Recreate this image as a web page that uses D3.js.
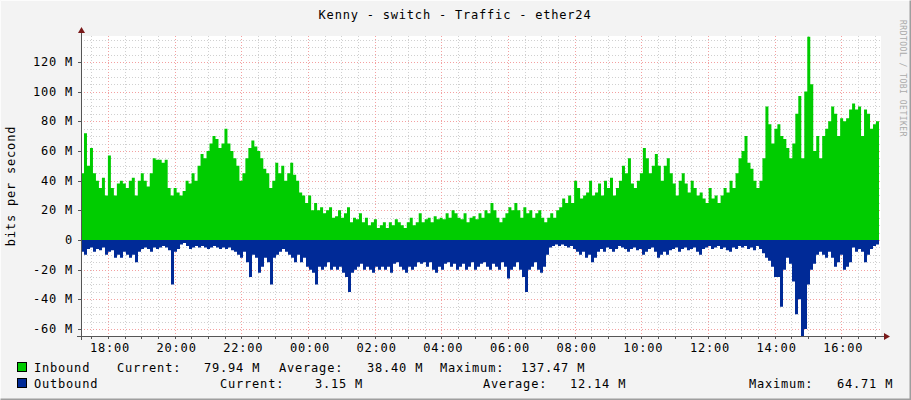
<!DOCTYPE html>
<html><head><meta charset="utf-8">
<script src="https://cdn.jsdelivr.net/npm/d3@7"></script>
<style>body{margin:0;background:#f3f3f3}text{font-family:"DejaVu Sans Mono",monospace;font-size:12px;letter-spacing:0.8px;fill:#000}</style>
</head><body><svg id="c" width="911" height="400"></svg>
<script>
const title = "Kenny - switch - Traffic - ether24";
const yLabel = "bits per second";
const yTicks = [-60,-40,-20,0,20,40,60,80,100,120];
const xTickLabels = ["18:00","20:00","22:00","00:00","02:00","04:00","06:00","08:00","10:00","12:00","14:00","16:00"];
const inbound = [45,72,50,62,45,40,35,42,30,57,35,30,38,40,38,35,40,42,30,40,45,40,36,45,55,54,54,52,54,35,30,35,32,30,33,40,38,45,40,50,58,55,60,65,70,68,62,65,75,65,60,55,50,40,45,55,62,67,63,60,55,48,45,35,40,52,45,50,40,45,52,44,40,32,30,25,30,20,25,20,22,18,20,22,15,16,20,15,18,22,12,15,14,18,12,15,10,12,14,8,10,12,8,12,10,14,12,10,8,12,15,10,12,18,12,14,15,12,16,14,15,14,18,15,20,18,15,14,18,12,15,16,14,18,15,20,18,25,20,15,12,15,18,22,20,25,20,15,22,18,20,15,18,20,15,12,15,18,15,20,22,28,25,30,25,40,35,28,30,32,40,30,32,38,30,40,35,42,30,35,40,50,45,55,38,35,40,45,62,55,45,50,58,50,40,50,55,45,38,30,40,45,38,32,40,35,30,32,28,25,35,28,30,25,30,35,32,40,35,45,55,60,70,52,48,40,35,40,55,90,78,65,75,78,70,68,62,55,65,85,97,55,100,137,105,60,70,55,70,75,80,90,85,70,82,80,82,88,92,88,90,70,88,85,75,78,80,80];
const outbound = [8,10,6,5,8,6,7,5,10,8,7,12,10,12,8,10,12,10,15,8,6,5,6,8,5,6,5,4,5,7,30,8,6,3,2,4,6,5,4,5,4,5,6,5,4,5,6,5,6,5,7,8,10,12,8,15,25,10,12,22,18,12,15,30,12,10,8,6,8,10,12,15,10,15,12,18,20,22,30,18,20,18,15,20,18,20,18,22,25,35,22,20,18,16,20,18,20,22,18,20,18,20,18,22,16,15,18,20,22,18,20,18,15,16,15,18,15,20,22,18,20,16,15,18,16,20,18,16,20,18,15,20,18,16,15,18,20,16,18,20,15,18,26,20,18,15,20,25,35,20,18,15,20,22,18,10,5,4,3,4,3,4,5,4,6,8,10,8,12,10,15,12,8,6,8,5,6,8,6,4,5,6,8,6,5,7,6,10,8,6,5,8,12,10,8,10,7,6,5,8,6,5,7,6,5,8,10,6,5,4,6,5,4,6,5,7,8,5,6,4,5,4,6,5,7,4,6,9,12,14,18,25,25,45,20,12,16,28,50,40,65,60,30,20,16,10,8,10,12,8,12,18,15,10,20,18,15,5,8,6,8,15,10,6,4,3,3];
const legendRows = [
 {name:"Inbound", color:"#00cc00", parts:[["Current:",117],["79.94 M",204],["Average:",279],["38.40 M",367],["Maximum:",440],["137.47 M",521]]},
 {name:"Outbound", color:"#002a97", parts:[["Current:",220],["3.15 M",315],["Average:",483],["12.14 M",570],["Maximum:",749],["64.71 M",837]]}
];

const svg = d3.select("#c");
const L=81,R=881,T=36,B=336;
const t0 = new Date(2020,0,1,17,11,30), t1 = new Date(2020,0,2,17,11,30);
const x = d3.scaleTime().domain([t0,t1]).range([L,R]);
const y = d3.scaleLinear().domain([-64.71,137.47]).range([B,T]);
svg.append("rect").attr("x",0).attr("y",0).attr("width",911).attr("height",400).attr("fill","#f3f3f3");
svg.append("path").attr("d","M0.5,399.5V0.5H910.5").attr("stroke","#fcfcfc").attr("fill","none");
svg.append("path").attr("d","M0.5,399.5H910.5V0.5").attr("stroke","#9e9e9e").attr("fill","none").attr("stroke-width",2);
svg.append("rect").attr("x",L).attr("y",T).attr("width",R-L).attr("height",B-T).attr("fill","#fff");
const g = svg.append("g");
for(let v=-60; v<=135; v+=5){ const major = v%20===0;
  g.append("line").attr("x1",L).attr("x2",R+1).attr("y1",Math.round(y(v))+.5).attr("y2",Math.round(y(v))+.5)
   .attr("stroke",major?"#f4a0a0":"#d0d0d0").attr("stroke-dasharray","1,2");}
const minor = d3.timeMinute.every(30).range(t0,t1);
minor.forEach(d=>{const major = d.getMinutes()===0 && d.getHours()%2===0;
  g.append("line").attr("y1",T).attr("y2",B).attr("x1",Math.round(x(d))+.5).attr("x2",Math.round(x(d))+.5)
   .attr("stroke",major?"#f4a0a0":"#d0d0d0").attr("stroke-dasharray","1,2");});
function mk(arr,sign){const n=arr.length;return arr.map((v,i)=>({t:new Date(+t0+(t1-t0)*i/(n-1)*0.9975),v:sign*v}));}
const inD=mk(inbound,1), outD=mk(outbound,-1);
const area = d3.area().x(d=>x(d.t)).y0(y(0)).y1(d=>y(d.v)).curve(d3.curveStepAfter);
svg.append("path").datum(inD).attr("d",area).attr("fill","#00cc00");
svg.append("path").datum(outD).attr("d",area).attr("fill","#002a97");
svg.append("line").attr("x1",L-4).attr("x2",R+3).attr("y1",B+.5).attr("y2",B+.5).attr("stroke","#555");
svg.append("line").attr("x1",L+.5).attr("x2",L+.5).attr("y1",T-6).attr("y2",B+4).attr("stroke","#555");
svg.append("path").attr("d",`M${R+3},${B-3}L${R+9},${B+.5}L${R+3},${B+4}Z`).attr("fill","#7a1a1a");
svg.append("path").attr("d",`M${L-3},${T-3}L${L+.5},${T-9}L${L+4},${T-3}Z`).attr("fill","#7a1a1a");
yTicks.forEach(v=>{svg.append("line").attr("x1",L-3).attr("x2",L).attr("y1",Math.round(y(v))+.5).attr("y2",Math.round(y(v))+.5).attr("stroke","#555");
  svg.append("text").attr("x",L-8).attr("y",y(v)+4).attr("text-anchor","end").text(v===0?"0":v+" M");});
minor.forEach(d=>svg.append("line").attr("y1",B).attr("y2",B+3).attr("x1",Math.round(x(d))+.5).attr("x2",Math.round(x(d))+.5).attr("stroke","#555"));
const majors = minor.filter(d=>d.getMinutes()===0 && d.getHours()%2===0);
majors.forEach((d,i)=>svg.append("text").attr("x",x(d)+2).attr("y",352).attr("text-anchor","middle").text(xTickLabels[i]));
svg.append("text").attr("x",455).attr("y",19).attr("text-anchor","middle").text(title);
svg.append("text").attr("transform","translate(15,186) rotate(-90)").attr("text-anchor","middle").text(yLabel);
svg.append("text").attr("transform","translate(900,20) rotate(90)").attr("style","font-size:8px;letter-spacing:0.5px;fill:#aaa").text("RRDTOOL / TOBI OETIKER");
legendRows.forEach((r,i)=>{const yy=372+i*16;
  svg.append("rect").attr("x",17.5).attr("y",yy-9.5).attr("width",9).attr("height",9).attr("fill",r.color).attr("stroke","#000");
  svg.append("text").attr("x",34).attr("y",yy).text(r.name);
  r.parts.forEach(p=>svg.append("text").attr("x",p[1]).attr("y",yy).text(p[0]));});
</script></body></html>
